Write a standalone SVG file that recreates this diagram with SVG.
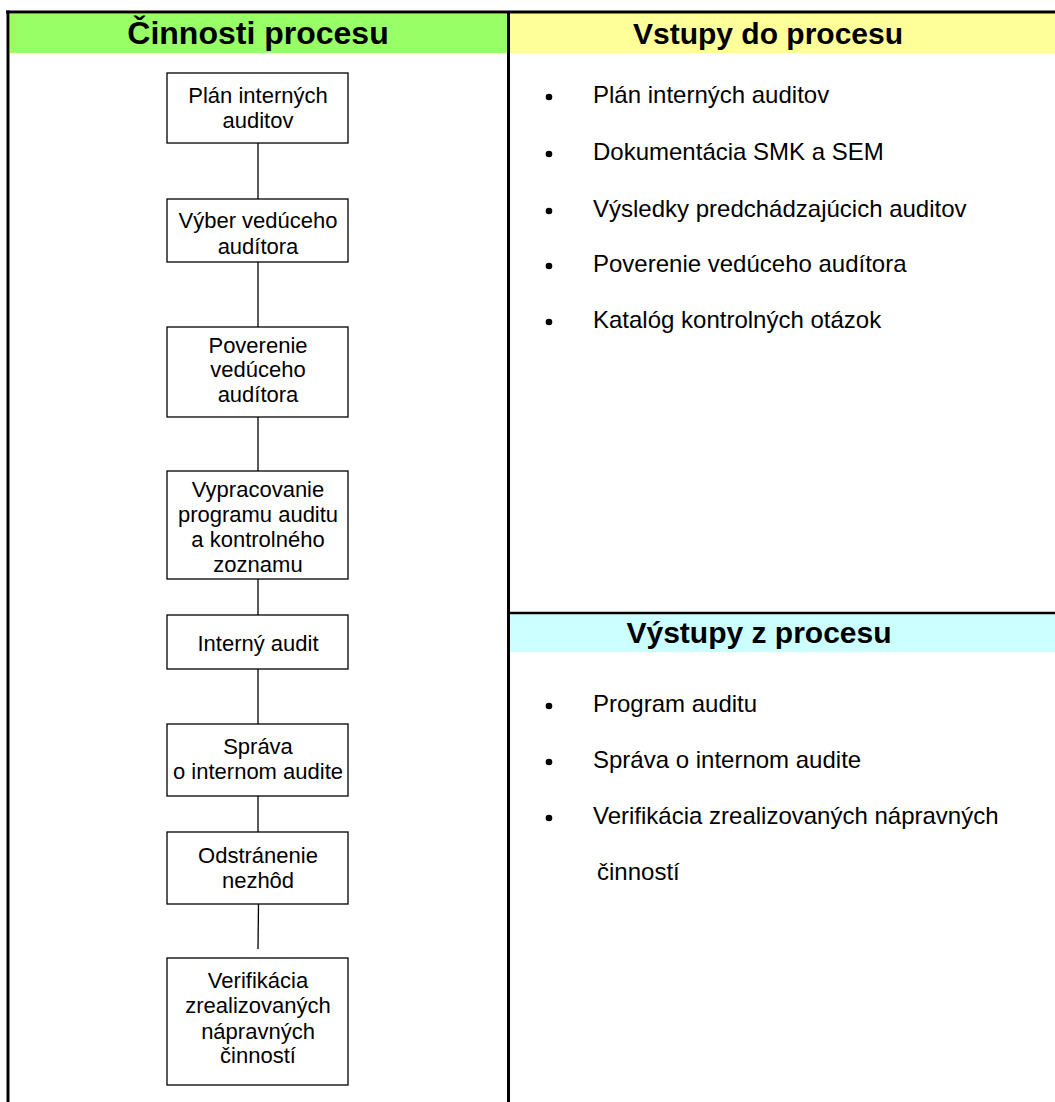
<svg xmlns="http://www.w3.org/2000/svg" width="1055" height="1102" viewBox="0 0 1055 1102">
  <style>
    .frame { stroke: #000; stroke-width: 3; fill: none; }
    .box { fill: #fff; stroke: #000; stroke-width: 1.3; }
    .link { stroke: #000; stroke-width: 1.3; fill: none; }
    .head { font-family: "Liberation Sans", Arial, sans-serif; font-weight: bold; font-size: 30px; fill: #000; text-anchor: middle; }
    .lbl { font-family: "Liberation Sans", Arial, sans-serif; font-size: 22px; fill: #000; text-anchor: middle; }
    .item { font-family: "Liberation Sans", Arial, sans-serif; font-size: 24px; fill: #000; }
  </style>

  <!-- header bands -->
  <rect x="10" y="14" width="498" height="39" fill="#99ff66"/>
  <rect x="510" y="14" width="545" height="39" fill="#ffff99"/>
  <rect x="510" y="614" width="545" height="38" fill="#ccffff"/>

  <!-- table frame -->
  <g id="frame">
    <line class="frame" x1="6" y1="12" x2="1055" y2="12"/>
    <line class="frame" x1="8" y1="10.5" x2="8" y2="1102"/>
    <line class="frame" x1="508.5" y1="12" x2="508.5" y2="1102"/>
    <line class="frame" x1="507" y1="613" x2="1055" y2="613" style="stroke-width:2.5px"/>
  </g>

  <text class="head" x="258" y="44" style="font-size:32px">Činnosti procesu</text>
  <text class="head" x="768" y="44">Vstupy do procesu</text>
  <text class="head" x="759" y="643">Výstupy z procesu</text>

  <!-- connectors -->
  <g id="connectors">
    <line class="link" x1="258" y1="143" x2="258" y2="199"/>
    <line class="link" x1="258" y1="262" x2="258" y2="327"/>
    <line class="link" x1="258" y1="417" x2="258" y2="471"/>
    <line class="link" x1="258" y1="579" x2="258" y2="615"/>
    <line class="link" x1="258" y1="669" x2="258" y2="724"/>
    <line class="link" x1="258" y1="796" x2="258" y2="832"/>
    <line class="link" x1="258.5" y1="904" x2="258" y2="949"/>
  </g>

  <!-- activity steps -->
  <g id="step1">
    <rect class="box" x="167" y="73" width="181" height="70"/>
    <text class="lbl" x="258" y="103">Plán interných</text>
    <text class="lbl" x="258" y="128">auditov</text>
  </g>
  <g id="step2">
    <rect class="box" x="167" y="199" width="181" height="63"/>
    <text class="lbl" x="258" y="228">Výber vedúceho</text>
    <text class="lbl" x="258" y="254">audítora</text>
  </g>
  <g id="step3">
    <rect class="box" x="167" y="327" width="181" height="90"/>
    <text class="lbl" x="258" y="353">Poverenie</text>
    <text class="lbl" x="258" y="377">vedúceho</text>
    <text class="lbl" x="258" y="402">audítora</text>
  </g>
  <g id="step4">
    <rect class="box" x="167" y="471" width="181" height="108"/>
    <text class="lbl" x="258" y="497">Vypracovanie</text>
    <text class="lbl" x="258" y="522">programu auditu</text>
    <text class="lbl" x="258" y="547">a kontrolného</text>
    <text class="lbl" x="258" y="572">zoznamu</text>
  </g>
  <g id="step5">
    <rect class="box" x="167" y="615" width="181" height="54"/>
    <text class="lbl" x="258" y="651">Interný audit</text>
  </g>
  <g id="step6">
    <rect class="box" x="167" y="724" width="181" height="72"/>
    <text class="lbl" x="258" y="754">Správa</text>
    <text class="lbl" x="258" y="779">o internom audite</text>
  </g>
  <g id="step7">
    <rect class="box" x="167" y="832" width="181" height="72"/>
    <text class="lbl" x="258" y="863">Odstránenie</text>
    <text class="lbl" x="258" y="888">nezhôd</text>
  </g>
  <g id="step8">
    <rect class="box" x="167" y="958" width="181" height="127"/>
    <text class="lbl" x="258" y="988">Verifikácia</text>
    <text class="lbl" x="258" y="1013">zrealizovaných</text>
    <text class="lbl" x="258" y="1039">nápravných</text>
    <text class="lbl" x="258" y="1063">činností</text>
  </g>

  <!-- inputs list -->
  <g id="inputs">
    <circle cx="549" cy="97" r="3.3"/>
    <text class="item" x="593" y="103">Plán interných auditov</text>
    <circle cx="549" cy="154" r="3.3"/>
    <text class="item" x="593" y="160">Dokumentácia SMK a SEM</text>
    <circle cx="549" cy="211" r="3.3"/>
    <text class="item" x="593" y="217">Výsledky predchádzajúcich auditov</text>
    <circle cx="549" cy="266" r="3.3"/>
    <text class="item" x="593" y="272">Poverenie vedúceho audítora</text>
    <circle cx="549" cy="322" r="3.3"/>
    <text class="item" x="593" y="328">Katalóg kontrolných otázok</text>
  </g>

  <!-- outputs list -->
  <g id="outputs">
    <circle cx="549" cy="706" r="3.3"/>
    <text class="item" x="593" y="712">Program auditu</text>
    <circle cx="549" cy="762" r="3.3"/>
    <text class="item" x="593" y="768">Správa o internom audite</text>
    <circle cx="549" cy="818" r="3.3"/>
    <text class="item" x="593" y="824">Verifikácia zrealizovaných nápravných</text>
    <text class="item" x="597" y="880">činností</text>
  </g>
</svg>
